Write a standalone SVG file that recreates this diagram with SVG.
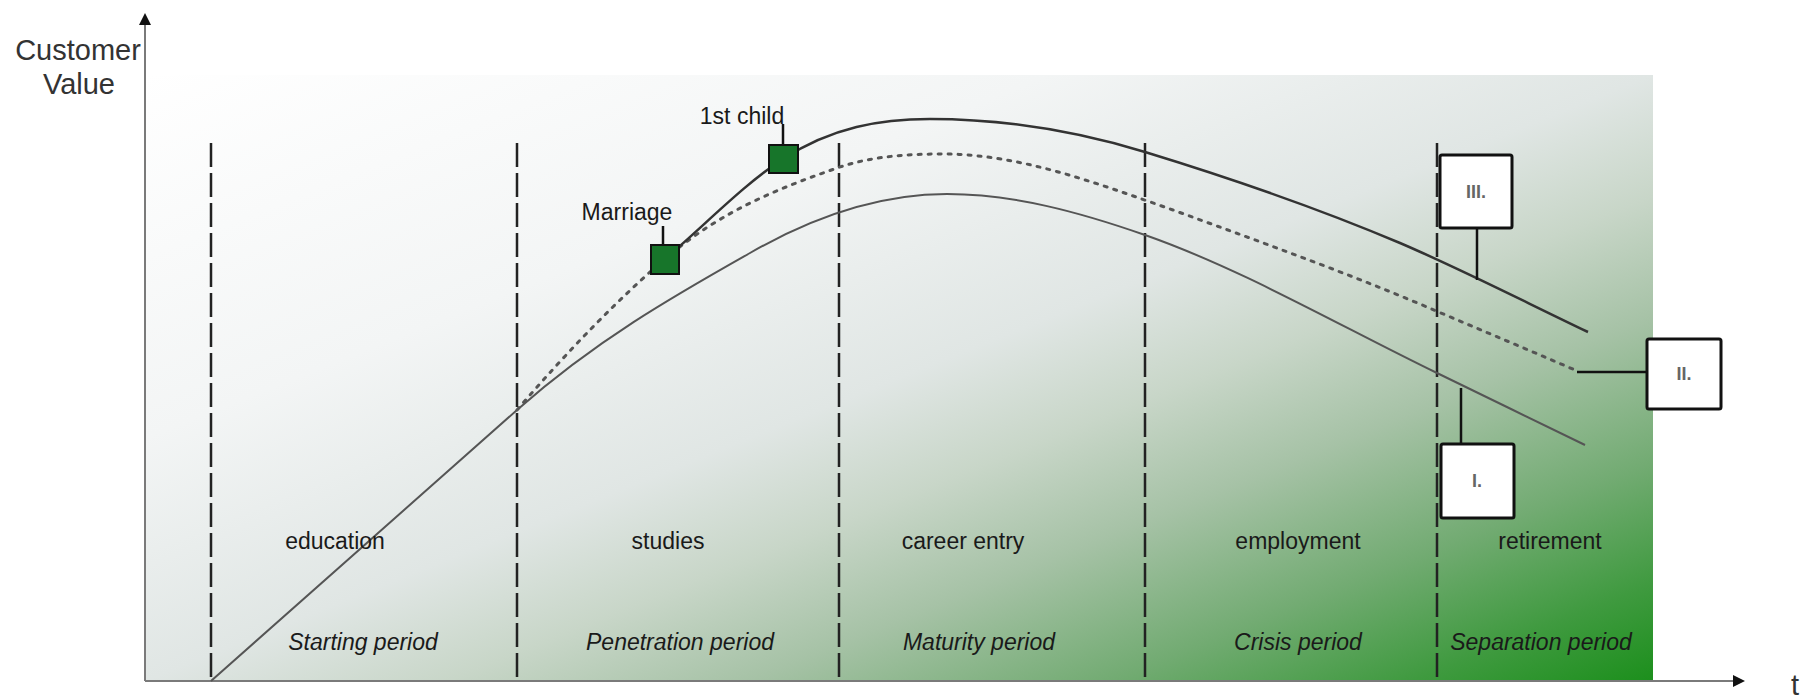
<svg xmlns="http://www.w3.org/2000/svg" width="1812" height="698" viewBox="0 0 1812 698">
<style>
.lbl{font-family:"Liberation Sans",Arial,sans-serif;font-size:23px;fill:#1a1a1a;text-anchor:middle}
.per{font-style:italic}
.ax{font-family:"Liberation Sans",Arial,sans-serif;font-size:29px;fill:#333;text-anchor:middle}
.box{fill:#fff;stroke:#111;stroke-width:3}
.btxt{font-family:"Liberation Sans",Arial,sans-serif;font-size:18px;font-weight:bold;fill:#666;text-anchor:middle}
.sep{stroke:#222;stroke-width:2.5;stroke-dasharray:24 6;fill:none}
.sq{fill:#17752a;stroke:#111;stroke-width:2}
.conn{stroke:#111;stroke-width:2.5;fill:none}
.axis{stroke:#7a7a7a;stroke-width:2;fill:none}
</style>
<defs>
<linearGradient id="bg" x1="0" y1="0" x2="1" y2="1">
<stop offset="0" stop-color="#ffffff"/>
<stop offset="0.3" stop-color="#f3f5f5"/>
<stop offset="0.5" stop-color="#e0e6e4"/>
<stop offset="0.6" stop-color="#c8d6c8"/>
<stop offset="0.7" stop-color="#a6c2a6"/>
<stop offset="0.82" stop-color="#72ab72"/>
<stop offset="0.92" stop-color="#3f9a3f"/>
<stop offset="1" stop-color="#1c8f1c"/>
</linearGradient>
<marker id="arr" viewBox="0 0 12 12" refX="0" refY="6" markerWidth="12" markerHeight="12" markerUnits="userSpaceOnUse" orient="auto">
<path d="M0,0 L12,6 L0,12 z" fill="#111"/>
</marker>
</defs>

<rect id="background" x="145" y="75" width="1508" height="606" fill="url(#bg)"/>

<g id="separators">
<line class="sep" x1="211" y1="143" x2="211" y2="681"/>
<line class="sep" x1="517" y1="143" x2="517" y2="681"/>
<line class="sep" x1="839" y1="143" x2="839" y2="681"/>
<line class="sep" x1="1145" y1="143" x2="1145" y2="681"/>
<line class="sep" x1="1437" y1="143" x2="1437" y2="681"/>
</g>

<g id="axes">
<line class="axis" x1="145" y1="681" x2="145" y2="25" marker-end="url(#arr)"/>
<line class="axis" x1="145" y1="681" x2="1733" y2="681" marker-end="url(#arr)"/>
<text class="ax" x="78" y="60">Customer</text>
<text class="ax" x="79" y="94">Value</text>
<text class="ax" x="1795" y="695">t</text>
</g>

<g id="connectors">
<path id="curve-I" d="M211,681 L517,410 C595,341 672,297 750,253 C816,215 881,194 947,194 C1013,194 1079,212 1145,235 C1242,269 1340,326 1437,373 C1486,397 1536,421 1585,445" stroke="#555" stroke-width="2" fill="none"/>
<path id="curve-II" d="M517,410 C566,353 616,301 665,259 C722,210 780,188 837,168 C872,156 908,154 943,154 C1020,154 1096,183 1173,210 C1258,241 1342,271 1427,307 C1476,328 1524,348 1575,370" stroke="#555" stroke-width="3" stroke-dasharray="3 7" stroke-linecap="round" fill="none"/>
<path id="curve-III" d="M665,259 C704,226 744,184 783,159 C832,127 881,119 930,119 C1002,119 1073,130 1145,152 C1230,178 1315,207 1400,243 C1463,270 1525,302 1588,332" stroke="#333" stroke-width="2.5" fill="none"/>
<line class="conn" x1="1477" y1="228" x2="1477" y2="280"/>
<line class="conn" x1="1577" y1="372" x2="1647" y2="372"/>
<line class="conn" x1="1461" y1="388" x2="1461" y2="444"/>
<line class="conn" x1="783" y1="145" x2="783" y2="124"/>
<line class="conn" x1="663" y1="245" x2="663" y2="226"/>
</g>

<g id="marriage">
<rect class="sq" x="651" y="245" width="28" height="29"/>
<text class="lbl" x="627" y="220">Marriage</text>
</g>
<g id="first-child">
<rect class="sq" x="769" y="145" width="29" height="28"/>
<text class="lbl" x="742" y="124">1st child</text>
</g>

<g id="box-III">
<rect class="box" x="1440" y="155" width="72" height="73" rx="2"/>
<text class="btxt" x="1476" y="198">III.</text>
</g>
<g id="box-II">
<rect class="box" x="1647" y="339" width="74" height="70" rx="2"/>
<text class="btxt" x="1684" y="380">II.</text>
</g>
<g id="box-I">
<rect class="box" x="1441" y="444" width="73" height="74" rx="2"/>
<text class="btxt" x="1477" y="487">I.</text>
</g>

<g id="phase-education"><text class="lbl" x="335" y="549">education</text><text class="lbl per" x="363" y="650">Starting period</text></g>
<g id="phase-studies"><text class="lbl" x="668" y="549">studies</text><text class="lbl per" x="680" y="650">Penetration period</text></g>
<g id="phase-career"><text class="lbl" x="963" y="549">career entry</text><text class="lbl per" x="979" y="650">Maturity period</text></g>
<g id="phase-employment"><text class="lbl" x="1298" y="549">employment</text><text class="lbl per" x="1298" y="650">Crisis period</text></g>
<g id="phase-retirement"><text class="lbl" x="1550" y="549">retirement</text><text class="lbl per" x="1541" y="650">Separation period</text></g>
</svg>
